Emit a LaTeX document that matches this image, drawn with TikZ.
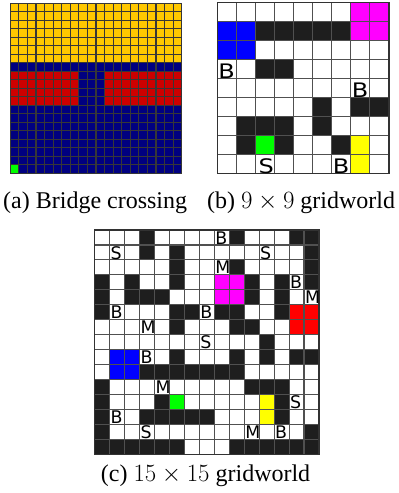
\documentclass[tikz,border=0pt]{standalone}
\usepackage{fontspec}
\setmainfont{Liberation Serif}
\newfontfamily\lettfont{DejaVu Sans}
\definecolor{bgold}{RGB}{255,200,0}
\definecolor{bnavy}{RGB}{0,0,128}
\definecolor{bred}{RGB}{204,0,0}
\definecolor{lime}{RGB}{0,255,0}
\definecolor{mag}{RGB}{255,0,255}
\definecolor{pblue}{RGB}{0,0,255}
\definecolor{pyel}{RGB}{255,255,0}
\definecolor{pred}{RGB}{255,0,0}
\definecolor{blk}{RGB}{30,30,30}
\definecolor{bline}{RGB}{55,55,55}
\definecolor{gline}{RGB}{80,80,80}
\definecolor{oline}{RGB}{50,50,50}
\tikzset{
  bridgeline/.style={draw=bline,line width=1.2pt},
  gridln/.style={draw=gline,line width=1.1pt},
  outerln/.style={draw=oline,line width=1.4pt},
  wall/.style={fill=blk},
  lettnine/.style={font=\lettfont\fontsize{20}{21}\selectfont,inner sep=0pt,anchor=base west,xscale=1.2},
  lettfif/.style={font=\lettfont\fontsize{17.4}{18}\selectfont,inner sep=0pt,anchor=base west},
  captext/.style={font=\fontsize{24}{28}\selectfont,inner sep=0pt,anchor=base west}
}
\begin{document}
\begin{tikzpicture}[x=1pt,y=-1pt]
\useasboundingbox (0,0) rectangle (399,493);
% ---------- (a) bridge crossing ----------
\begin{scope}[xshift=10.3pt,yshift=-3.3pt,x=8.57pt,y=-8.5pt]
  \fill[bgold] (0,0) rectangle (20,7);
  \fill[bnavy] (0,7) rectangle (20,20);
  \fill[bred] (0,8) rectangle (8,12);
  \fill[bred] (11,8) rectangle (20,12);
  \fill[lime] (0,19) rectangle (1,20);
  \foreach \i in {0,...,20} {
    \draw[bridgeline] (\i,0) -- (\i,20);
    \draw[bridgeline] (0,\i) -- (20,\i);
  }
\end{scope}
% ---------- (b) 9x9 ----------
\begin{scope}[xshift=217.3pt,yshift=-2.7pt,x=19.07pt,y=-18.96pt]
  \fill[mag] (7,0) rectangle (9,2);
  \fill[pblue] (0,1) rectangle (2,3);
  \fill[wall] (2,1) rectangle (7,2);
  \fill[wall] (2,3) rectangle (4,4);
  \fill[wall] (5,5) rectangle (6,7);
  \fill[wall] (7,5) rectangle (9,6);
  \fill[wall] (1,6) rectangle (4,7);
  \fill[wall] (1,7) rectangle (2,8);
  \fill[wall] (3,7) rectangle (4,8);
  \fill[wall] (6,7) rectangle (7,8);
  \fill[lime] (2,7) rectangle (3,8);
  \fill[pyel] (7,7) rectangle (8,9);
  \foreach \i in {1,...,8} {
    \draw[gridln] (\i,0) -- (\i,9);
    \draw[gridln] (0,\i) -- (9,\i);
  }
  \draw[outerln] (0,0) rectangle (9,9);
  \node[lettnine] (nB1) at (0.05,4) {B};
  \node[lettnine] (nB2) at (7.05,5) {B};
  \node[lettnine] (nS1) at (2.15,9) {S};
  \node[lettnine] (nB3) at (6.05,9) {B};
\end{scope}
% ---------- (c) 15x15 ----------
\begin{scope}[xshift=94.7pt,yshift=-230pt,x=14.95pt,y=-14.95pt]
  \foreach \c/\r in {3/0,9/0,13/0,14/0, 3/1,5/1,14/1, 5/2,9/2,14/2,
     0/3,2/3,5/3,10/3,12/3,14/3, 0/4,2/4,3/4,4/4,10/4,12/4,
     0/5,5/5,6/5,8/5,9/5,12/5, 5/6,9/6,10/6, 11/7,
     5/8,9/8,11/8,13/8,14/8, 3/9,4/9,5/9,6/9,7/9,8/9,9/9,
     0/10,10/10,11/10,12/10, 0/11,4/11,12/11,
     0/12,3/12,4/12,5/12,6/12,7/12,12/12, 0/13,14/13,
     0/14,1/14,2/14,3/14,4/14,5/14,9/14,10/14,11/14,12/14,13/14,14/14}
    { \fill[wall] (\c,\r) rectangle ++(1,1); }
  \fill[mag] (8,3) rectangle (10,5);
  \fill[pred] (13,5) rectangle (15,7);
  \fill[pblue] (1,8) rectangle (3,10);
  \fill[lime] (5,11) rectangle (6,12);
  \fill[pyel] (11,11) rectangle (12,13);
  \foreach \i in {1,...,14} {
    \draw[gridln] (\i,0) -- (\i,15);
    \draw[gridln] (0,\i) -- (15,\i);
  }
  \draw[outerln] (0,0) rectangle (15,15);
  \foreach \t/\c/\r in {B/8/0, S/1/1, S/11/1, M/8/2, B/13/3, M/14/4, B/1/5, B/7/5,
     M/3/6, S/7/7, B/3/8, M/4/10, S/13/11, B/1/12, S/3/13, M/10/13, B/12/13}
    { \node[lettfif] (L\c-\r) at (\c+0.06,\r+0.94) {\t}; }
\end{scope}
% ---------- captions ----------
\node[captext] (capa) at (3,208) {(a) Bridge crossing};
\node[captext] (capb) at (207,208) {(b) $9\times 9$ gridworld};
\node[captext] (capc) at (100.7,481) {(c) $15\times 15$ gridworld};
\end{tikzpicture}
\end{document}
